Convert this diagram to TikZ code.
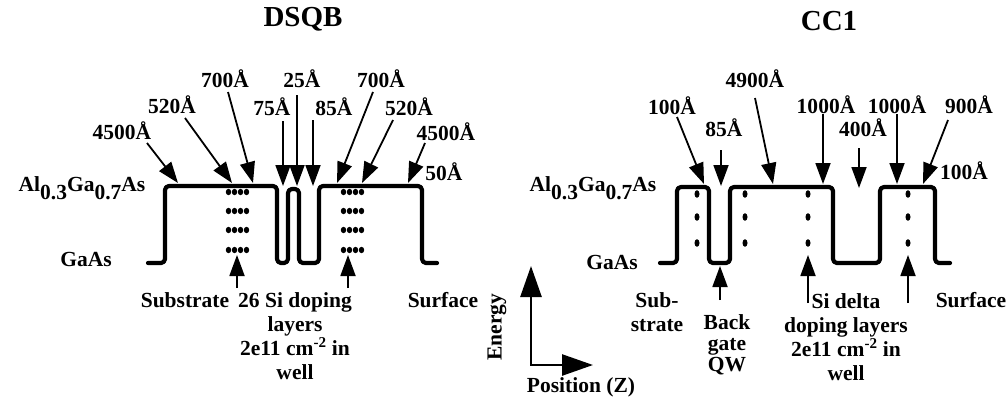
\documentclass[tikz,border=0pt]{standalone}
\usepackage{fontspec}
\setmainfont{Liberation Serif}
\usetikzlibrary{arrows.meta}
\begin{document}
\begin{tikzpicture}[x=1pt,y=-1pt,
  band/.style={line width=4.2pt, rounded corners=4pt, line cap=round, line join=round},
  ptr/.style={line width=1.8pt, -{Triangle[length=21pt,width=15pt]}},
  axis/.style={line width=2.6pt, -{Triangle[length=31pt,width=21pt]}},
  lbl/.style={font=\fontsize{21.5}{24}\selectfont\bfseries, inner sep=0pt},
  mlbl/.style={font=\fontsize{21.5}{24}\selectfont\bfseries, inner sep=0pt, align=center},
  ttl/.style={font=\fontsize{29}{31}\selectfont\bfseries, inner sep=0pt}]
\useasboundingbox (0,0) rectangle (1008,404);

% ---------------- titles
\node[ttl] (tA) at (303,19) {DSQB};
\node[ttl] (tB) at (829,21) {CC1};

% ================= LEFT: DSQB
\draw[band] (148,263) -- (165,263) -- (165,186) -- (277,186) -- (277,263) -- (288,263)
  -- (288,189) -- (299,189) -- (299,263) -- (319,263) -- (319,186) -- (422,186)
  -- (422,263) -- (437,263);

\foreach \yy in {192,211,230,250}{
  \foreach \xx in {228.5,234.5,240.5,246.5,343.5,349.5,355.5,361.5}{
    \fill (\xx,\yy) ellipse (2.7pt and 3.2pt);
  }
}

\node[lbl] (alA) at (82,188) {Al\raisebox{-0.4em}{0.3}Ga\raisebox{-0.4em}{0.7}As};
\node[lbl] (gaA) at (86,259) {GaAs};

\node[lbl] (l1) at (122,131) {4500Å};
\node[lbl] (l2) at (172,105) {520Å};
\node[lbl] (l3) at (225,79) {700Å};
\node[lbl] (l4) at (272,107) {75Å};
\node[lbl] (l5) at (302,79) {25Å};
\node[lbl] (l6) at (334,107) {85Å};
\node[lbl] (l7) at (381,79) {700Å};
\node[lbl] (l8) at (409,107) {520Å};
\node[lbl] (l9) at (446,132) {4500Å};
\node[lbl] (l10) at (444,172) {50Å};

\coordinate (s1) at (147,143); \coordinate (e1) at (178,183);
\coordinate (s2) at (185,118); \coordinate (e2) at (232,183);
\coordinate (s3) at (228,92);  \coordinate (e3) at (253,183);
\coordinate (s4) at (283,121); \coordinate (e4) at (283,186);
\coordinate (s5) at (297,95);  \coordinate (e5) at (297,186);
\coordinate (s6) at (313,120); \coordinate (e6) at (313,186);
\coordinate (s7) at (373,92);  \coordinate (e7) at (337,183);
\coordinate (s8) at (393,120); \coordinate (e8) at (362,183);
\coordinate (s9) at (425,143); \coordinate (e9) at (408,183);
\foreach \i in {1,...,9}{ \draw[ptr] (s\i) -- (e\i); }

\coordinate (u1) at (237,288); \coordinate (v1) at (237,255);
\coordinate (u2) at (348,288); \coordinate (v2) at (348,255);
\draw[ptr] (u1) -- (v1);
\draw[ptr] (u2) -- (v2);

\node[lbl] (subA) at (185,300) {Substrate};
\node[mlbl] (dopA) at (295,336) {26 Si doping\\layers\\2e11 cm\textsuperscript{-2} in\\well};
\node[lbl] (surA) at (443,300) {Surface};

% ================= axes
\coordinate (org) at (531,365);
\coordinate (eTop) at (531,266);
\coordinate (pEnd) at (593,365);
\draw[axis] (org) -- (eTop);
\draw[axis] (org) -- (pEnd);
\draw[line width=2.6pt] (531,364) -- (531,366);
\node[lbl, rotate=90] (en) at (497,327) {Energy};
\node[lbl] (pos) at (581,387) {Position (Z)};

% ================= RIGHT: CC1
\draw[band] (660,263) -- (677,263) -- (677,187) -- (709,187) -- (709,263) -- (730,263)
  -- (730,187) -- (833,187) -- (833,263) -- (880,263) -- (880,187) -- (935,187)
  -- (935,263) -- (950,263);

\foreach \yy in {194,217,243}{
  \foreach \xx in {697,745,808,908}{
    \fill (\xx,\yy) ellipse (2.5pt and 3.8pt);
  }
}

\node[lbl] (alB) at (593,188) {Al\raisebox{-0.4em}{0.3}Ga\raisebox{-0.4em}{0.7}As};
\node[lbl] (gaB) at (612,262) {GaAs};

\node[lbl] (r1) at (672,106) {100Å};
\node[lbl] (r2) at (724,128) {85Å};
\node[lbl] (r3) at (755,79) {4900Å};
\node[lbl] (r4) at (826,105) {1000Å};
\node[lbl] (r5) at (863,128) {400Å};
\node[lbl] (r6) at (897,105) {1000Å};
\node[lbl] (r7) at (969,105) {900Å};
\node[lbl] (r8) at (964,171) {100Å};

\coordinate (p1) at (677,117); \coordinate (q1) at (704,184);
\coordinate (p2) at (721,150); \coordinate (q2) at (721,186);
\coordinate (p3) at (755,98);  \coordinate (q3) at (773,184);
\coordinate (p4) at (823,114); \coordinate (q4) at (823,184);
\coordinate (p5) at (859,148); \coordinate (q5) at (859,188);
\coordinate (p6) at (897,114); \coordinate (q6) at (897,184);
\coordinate (p7) at (948,120); \coordinate (q7) at (923,184);
\foreach \i in {1,...,7}{ \draw[ptr] (p\i) -- (q\i); }

\coordinate (w1) at (720,300); \coordinate (z1) at (720,266);
\coordinate (w2) at (808,303); \coordinate (z2) at (808,255);
\coordinate (w3) at (908,303); \coordinate (z3) at (908,255);
\foreach \i in {1,2,3}{ \draw[ptr] (w\i) -- (z\i); }

\node[mlbl] (subB) at (657,312) {Sub-\\strate};
\node[mlbl, font=\fontsize{21.5}{21}\selectfont\bfseries] (bgB) at (727,345) {Back\\gate\\QW};
\node[mlbl] (dopB) at (846,337) {Si delta\\doping layers\\2e11 cm\textsuperscript{-2} in\\well};
\node[lbl] (surB) at (971,300) {Surface};
\end{tikzpicture}
\end{document}
